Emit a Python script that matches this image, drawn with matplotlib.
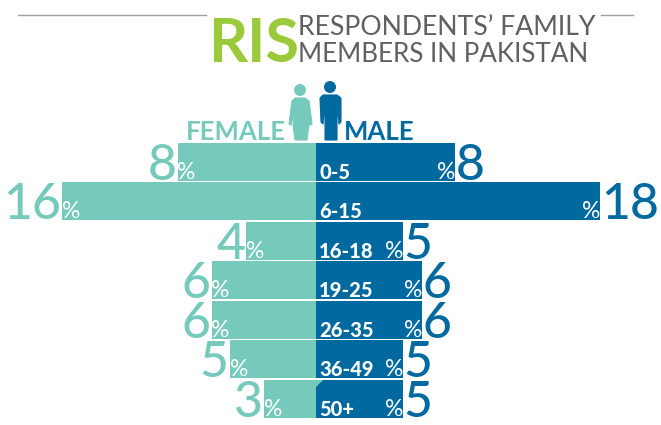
import matplotlib
matplotlib.use("Agg")
import matplotlib.pyplot as plt
from matplotlib.patches import Circle, Polygon

ages = ["0-5", "6-15", "16-18", "19-25", "26-35", "36-49", "50+"]
female_labels = [8, 16, 4, 6, 6, 5, 3]
male_labels = [8, 18, 5, 6, 6, 5, 5]
female_bar = [8.75, 16.05, 4.4, 6.6, 6.6, 5.45, 3.3]
male_bar = [8.8, 18.0, 5.5, 6.7, 6.7, 5.5, 5.5]

TEAL = "#76CABB"
BLUE = "#00699F"
GREEN = "#9ACA3C"
GREY = "#606060"

plt.rcParams['font.family'] = ['Lato', 'DejaVu Sans']
W, H = 661, 425
fig = plt.figure(figsize=(W / 100, H / 100), dpi=100)

S = 15.8
X0 = 316
ax = fig.add_axes([0, 0, 1, 1], facecolor="none")
ax.set_xlim(-X0 / S, (W - X0) / S)
ax.set_ylim(H, 0)
ax.axis("off")

tops = [143, 182, 222, 261, 301, 340, 380]
h = 38
for i, a in enumerate(ages):
    y = tops[i] + h / 2
    ax.barh(y, -female_bar[i], height=h, color=TEAL, lw=0)
    ax.barh(y, male_bar[i], height=h, color=BLUE, lw=0)
    lx = -female_bar[i]
    rx = male_bar[i]
    base = tops[i] + h - 1
    ax.text(lx - 0.08, base, str(female_labels[i]), color=TEAL, fontsize=36, ha="right", va="baseline", fontweight="medium")
    ax.text(lx - 0.02, base - 1, "%", color="white", fontsize=16.5, ha="left", va="baseline")
    ax.text(rx + 0.02, base, str(male_labels[i]), color=BLUE, fontsize=36, ha="left", va="baseline", fontweight="medium")
    ax.text(rx + 0.02, base - 1, "%", color="white", fontsize=16.5, ha="right", va="baseline")
    ax.text(0.2, base - 1, a, color="white", fontsize=14.5, fontweight="black", ha="left", va="baseline")

ax2 = fig.add_axes([0, 0, 1, 1], facecolor="none")
ax2.set_xlim(0, W); ax2.set_ylim(H, 0); ax2.axis("off")
# notch in the last row
ax2.add_patch(Polygon([[316, 380], [323, 380], [316, 387]], color=TEAL, lw=0, zorder=5))

# rules
ax2.plot([18, 206], [15, 15], color="#A0A0A0", lw=1)
ax2.plot([601, 633], [15, 15], color="#A0A0A0", lw=1)

# title
ax2.text(208, 62, "RIS", color=GREEN, fontsize=44, fontweight="bold", ha="left", va="baseline")
ax2.text(298, 35, "RESPONDENTS\u2019 FAMILY", color=GREY, fontsize=19.2, ha="left", va="baseline", fontweight="normal")
ax2.text(298, 62, "MEMBERS IN PAKISTAN", color=GREY, fontsize=18.7, ha="left", va="baseline", fontweight="normal")

# legend words
ax2.text(286, 140, "FEMALE", color=TEAL, fontsize=18.5, fontweight="bold", ha="right", va="baseline")
ax2.text(344, 140, "MALE", color=BLUE, fontsize=18.5, fontweight="bold", ha="left", va="baseline")

# female icon
ax2.add_patch(Circle((300, 90), 6, color=TEAL, lw=0))
ax2.add_patch(Polygon([[295, 98], [305, 98], [309, 101], [312, 124], [310, 125], [306, 108], [309, 125],
                       [307, 140], [295, 140], [293, 125], [296, 108], [291, 125], [289, 124], [292, 101]],
                      facecolor=TEAL, edgecolor=TEAL, lw=0.8, joinstyle="round"))
# male icon
ax2.add_patch(Circle((330, 87), 6, color=BLUE, lw=0))
ax2.add_patch(Polygon([[323, 95], [337, 95], [341, 98], [341, 122], [339, 124], [337, 105], [337, 140],
                       [325, 140], [325, 105], [323, 124], [321, 122], [320, 98]],
                      facecolor=BLUE, edgecolor=BLUE, lw=0.8, joinstyle="round"))

fig.savefig("out.png", dpi=100)
